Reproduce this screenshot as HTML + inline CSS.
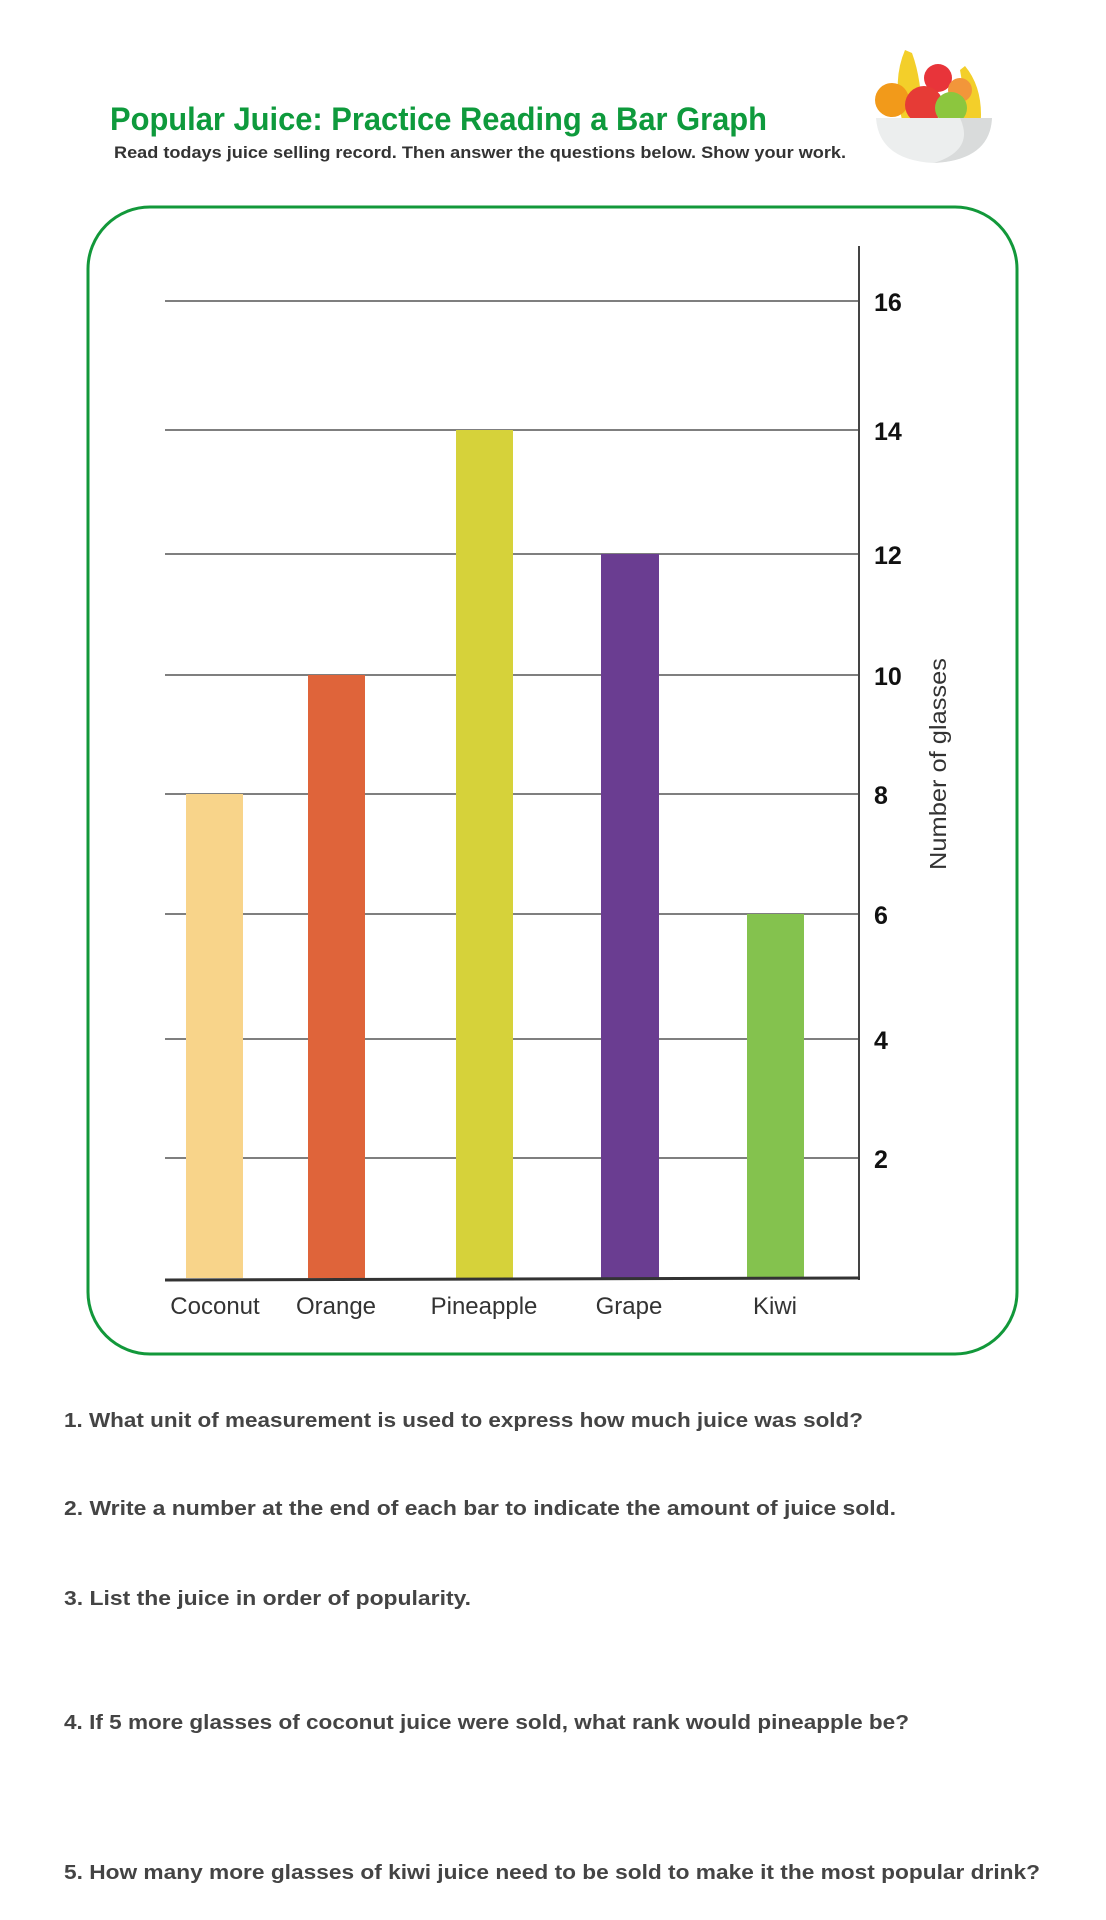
<!DOCTYPE html>
<html><head><meta charset="utf-8"><style>
html,body{margin:0;padding:0;background:#fff;}
svg{display:block;}
text{font-family:"Liberation Sans",sans-serif;}
</style></head><body>
<svg width="1106" height="1920" viewBox="0 0 1106 1920" xmlns="http://www.w3.org/2000/svg">
<rect width="1106" height="1920" fill="#fff"/>
<text x="110" y="130" font-size="32" font-weight="bold" fill="#0e9a3c" textLength="657" lengthAdjust="spacingAndGlyphs">Popular Juice: Practice Reading a Bar Graph</text>
<text x="114" y="158" font-size="17" font-weight="bold" fill="#333" textLength="732" lengthAdjust="spacingAndGlyphs">Read todays juice selling record. Then answer the questions below.  Show your work.</text>
<!-- fruit bowl -->
<g>
<path d="M905 50 Q892 80 902 120 L922 120 Q922 80 912 53 Z" fill="#f3cf2a"/>
<path d="M965 66 Q985 90 980 130 L960 130 Q965 95 960 70 Z" fill="#f3cf2a"/>
<circle cx="938" cy="78" r="14" fill="#e8343a"/>
<circle cx="960" cy="90" r="12" fill="#f2963a"/>
<circle cx="892" cy="100" r="17" fill="#f29a1a"/>
<circle cx="924" cy="105" r="19" fill="#e63b36"/>
<circle cx="951" cy="108" r="16" fill="#8cc63e"/>
<path d="M876 118 L992 118 Q990 160 934 163 Q879 160 876 118 Z" fill="#eceeee"/>
<path d="M960 118 L992 118 Q990 160 934 163 Q975 150 960 118 Z" fill="#d9dbdb"/>
</g>
<!-- frame -->
<rect x="88" y="207" width="929" height="1147" rx="62" ry="62" fill="none" stroke="#12983a" stroke-width="3"/>
<!-- gridlines -->
<g stroke="#555" stroke-width="1.5">
<line x1="165" y1="301" x2="859" y2="301"/>
<line x1="165" y1="430" x2="859" y2="430"/>
<line x1="165" y1="554" x2="859" y2="554"/>
<line x1="165" y1="675" x2="859" y2="675"/>
<line x1="165" y1="794" x2="859" y2="794"/>
<line x1="165" y1="914" x2="859" y2="914"/>
<line x1="165" y1="1039" x2="859" y2="1039"/>
<line x1="165" y1="1158" x2="859" y2="1158"/>
</g>
<!-- bars -->
<rect x="186" y="794" width="57" height="484" fill="#f8d48a"/>
<rect x="308" y="675" width="57" height="603" fill="#df643a"/>
<rect x="456" y="430" width="57" height="848" fill="#d6d23a"/>
<rect x="601" y="554" width="58" height="724" fill="#6a3d91"/>
<rect x="747" y="914" width="57" height="364" fill="#84c24e"/>
<!-- axes -->
<line x1="859" y1="246" x2="859" y2="1280" stroke="#444" stroke-width="2"/>
<line x1="165" y1="1280" x2="860" y2="1278" stroke="#333" stroke-width="3"/>
<g font-size="25" font-weight="bold" fill="#111">
<text x="874" y="311">16</text>
<text x="874" y="440">14</text>
<text x="874" y="564">12</text>
<text x="874" y="685">10</text>
<text x="874" y="804">8</text>
<text x="874" y="924">6</text>
<text x="874" y="1049">4</text>
<text x="874" y="1168">2</text>
</g>
<text transform="translate(946,764) rotate(-90)" text-anchor="middle" font-size="23" fill="#333" textLength="212" lengthAdjust="spacingAndGlyphs">Number of glasses</text>
<g font-size="24" fill="#333" text-anchor="middle">
<text x="215" y="1314">Coconut</text>
<text x="336" y="1314">Orange</text>
<text x="484" y="1314">Pineapple</text>
<text x="629" y="1314">Grape</text>
<text x="775" y="1314">Kiwi</text>
</g>
<g font-size="20" font-weight="bold" fill="#444">
<text x="64" y="1427" textLength="799" lengthAdjust="spacingAndGlyphs">1.  What unit of measurement is used to express how much juice was sold?</text>
<text x="64" y="1515" textLength="832" lengthAdjust="spacingAndGlyphs">2.  Write a number at the end of each bar to indicate the amount of juice sold.</text>
<text x="64" y="1605" textLength="407" lengthAdjust="spacingAndGlyphs">3.  List the juice in order of popularity.</text>
<text x="64" y="1729" textLength="845" lengthAdjust="spacingAndGlyphs">4.  If 5 more glasses of coconut juice were sold, what rank would pineapple be?</text>
<text x="64" y="1879" textLength="976" lengthAdjust="spacingAndGlyphs">5.  How many more glasses of kiwi juice need to be sold to make it the most popular drink?</text>
</g>
</svg>
</body></html>
